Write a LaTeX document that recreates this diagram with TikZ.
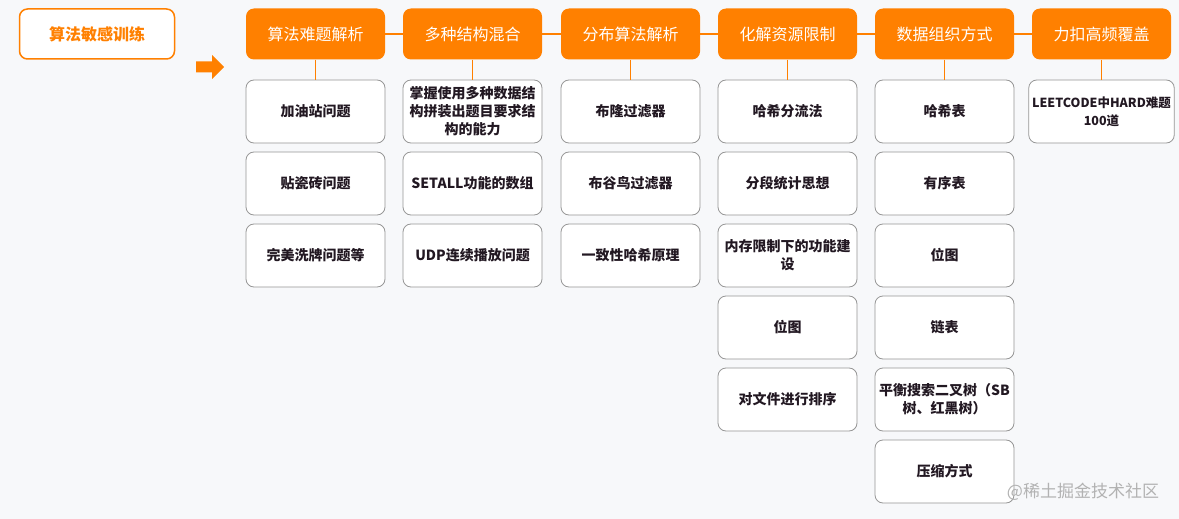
\documentclass[tikz,border=0pt]{standalone}
\usepackage{fontspec}
\setmainfont{Noto Sans CJK SC}
\usepackage{xcolor}
\usepackage{tikz}

\definecolor{mainorange}{RGB}{255,128,0}
\definecolor{bggray}{RGB}{247,248,250}
\definecolor{boxgray}{RGB}{150,150,150}
\definecolor{inkdark}{RGB}{34,24,34}

\tikzset{
  topic/.style={draw=mainorange, line width=1.5pt, fill=white, rounded corners=8pt,
    minimum width=155pt, minimum height=50pt, text=mainorange,
    font=\fontsize{16}{19}\selectfont\bfseries},
  header/.style={fill=mainorange, rounded corners=8pt, minimum width=139pt,
    minimum height=51pt, text=white, font=\fontsize{16}{19}\selectfont},
  item/.style={draw=boxgray, line width=0.8pt, fill=white, rounded corners=8pt,
    minimum width=139pt, minimum height=63pt, align=center, text=inkdark,
    font=\fontsize{14}{18}\selectfont\bfseries},
  link/.style={draw=mainorange, line width=1.1pt}
}

\begin{document}
\begin{tikzpicture}[x=1pt, y=-1pt]
        \useasboundingbox[fill=bggray] (0,0) rectangle (1179,519);

        % Topic and pointer
        \node[topic] (topic) at (97,34) {算法敏感训练};
        \fill[mainorange] (196,61.5) -- (212,61.5) -- (212,55) -- (224,67) -- (212,79)
              -- (212,72.5) -- (196,72.5) -- cycle;

        % Headers
        \node[header] (algo) at (315.5,34) {算法难题解析};
        \node[header] (mixed) at (472.5,34) {多种结构混合};
        \node[header] (dist) at (630.5,34) {分布算法解析};
        \node[header] (resource) at (787.5,34) {化解资源限制};
        \node[header] (dataorg) at (944.5,34) {数据组织方式};
        \node[header] (leet) at (1101.5,34) {力扣高频覆盖};

        % Header chain
        \draw[link] (algo) -- (mixed);
        \draw[link] (mixed) -- (dist);
        \draw[link] (dist) -- (resource);
        \draw[link] (resource) -- (dataorg);
        \draw[link] (dataorg) -- (leet);

        % Column 1
        \node[item] (algo1) at (315.5,111.5) {加油站问题};
        \node[item] (algo2) at (315.5,183.5) {贴瓷砖问题};
        \node[item] (algo3) at (315.5,255.5) {完美洗牌问题等};

        % Column 2
        \node[item] (mixed1) at (472.5,111.5) {掌握使用多种数据结\\构拼装出题目要求结\\构的能力};
        \node[item] (mixed2) at (472.5,183.5) {SETALL功能的数组};
        \node[item] (mixed3) at (472.5,255.5) {UDP连续播放问题};

        % Column 3
        \node[item] (dist1) at (630.5,111.5) {布隆过滤器};
        \node[item] (dist2) at (630.5,183.5) {布谷鸟过滤器};
        \node[item] (dist3) at (630.5,255.5) {一致性哈希原理};

        % Column 4
        \node[item] (resource1) at (787.5,111.5) {哈希分流法};
        \node[item] (resource2) at (787.5,183.5) {分段统计思想};
        \node[item] (resource3) at (787.5,255.5) {内存限制下的功能建\\设};
        \node[item] (resource4) at (787.5,327.5) {位图};
        \node[item] (resource5) at (787.5,399.5) {对文件进行排序};

        % Column 5
        \node[item] (dataorg1) at (944.5,111.5) {哈希表};
        \node[item] (dataorg2) at (944.5,183.5) {有序表};
        \node[item] (dataorg3) at (944.5,255.5) {位图};
        \node[item] (dataorg4) at (944.5,327.5) {链表};
        \node[item] (dataorg5) at (944.5,399.5) {平衡搜索二叉树（SB\\树、红黑树）};
        \node[item] (dataorg6) at (944.5,471.5) {压缩方式};

        % Column 6
        \node[item, font=\fontsize{12.5}{18}\selectfont\bfseries] (leet1) at (1101.5,111.5) {LEETCODE中HARD难题\\100道};

        % Header to first item
        \draw[link] (algo) -- (algo1);
        \draw[link] (mixed) -- (mixed1);
        \draw[link] (dist) -- (dist1);
        \draw[link] (resource) -- (resource1);
        \draw[link] (dataorg) -- (dataorg1);
        \draw[link] (leet) -- (leet1);

        % Watermark
        \node[text=black!30, font=\fontsize{17}{20}\selectfont] (mark) at (1083,492) {@稀土掘金技术社区};
    \end{tikzpicture}
\end{document}
